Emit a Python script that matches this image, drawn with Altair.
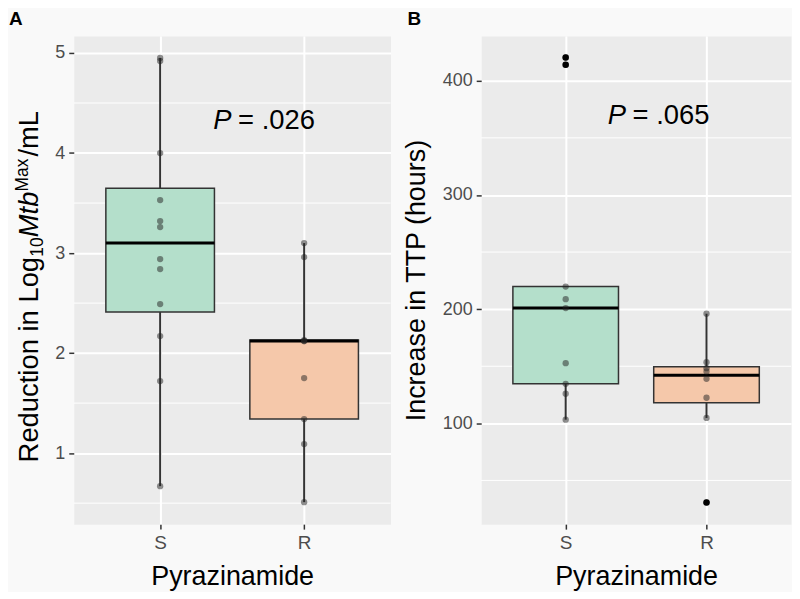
import altair as alt
import pandas as pd

# ---------------- data ----------------
GROUPS = ["S", "R"]
A_S = [4.95, 4.92, 4.00, 3.53, 3.32, 3.26, 2.94, 2.84, 2.49, 2.17, 1.72, 0.67]
A_R = [3.10, 2.96, 2.13, 2.12, 2.12, 1.75, 1.34, 1.09, 0.51]
B_S = [420.4, 414.0, 219.8, 208.7, 200.9, 152.7, 134.6, 125.9, 103.2]
B_R = [196.0, 153.5, 148.3, 145.4, 139.0, 122.4, 104.7, 30.7]

A_TICKS = [1, 2, 3, 4, 5]
A_MINOR = [0.5, 1.5, 2.5, 3.5, 4.5]
A_DOMAIN = [0.29, 5.17]
B_TICKS = [100, 200, 300, 400]
B_MINOR = [50, 150, 250, 350]
B_DOMAIN = [11.7, 439.2]

FILLS = ["#b4dfcb", "#f5c8aa"]
X_TITLE = "Pyrazinamide"
A_YTITLE_PARTS = ["Reduction in Log", "10", "Mtb", "Max", "/mL"]
B_YTITLE = "Increase in TTP (hours)"
P_A = ["P", "= .026"]
P_B = ["P", "= .065"]
PANEL_LABELS = ["A", "B"]

FONT = "Liberation Sans"


def long_df(s_vals, r_vals):
    return pd.DataFrame({
        "group": ["S"] * len(s_vals) + ["R"] * len(r_vals),
        "value": s_vals + r_vals,
    })


def text_layer(txt, x, y, size, **kw):
    return alt.Chart(pd.DataFrame({"t": [txt]})).mark_text(
        font=FONT, fontSize=size, color="black", **kw
    ).encode(text="t:N", x=alt.value(x), y=alt.value(y))


def panel(df, domain, ticks, minor, boxw, ytitle):
    xs = alt.Scale(type="point", domain=GROUPS, padding=0.6)
    ys = alt.Scale(domain=domain, nice=False, zero=False)
    xax = alt.Axis(title=X_TITLE, labelAngle=0, titlePadding=12, labelFontSize=19)
    yax = alt.Axis(values=ticks, title=ytitle, titlePadding=12)

    def X():
        return alt.X("group:N", scale=xs, axis=xax)

    def Y(field):
        return alt.Y(f"{field}:Q", scale=ys, axis=yax)

    base = alt.Chart(df)

    minor_rules = alt.Chart(pd.DataFrame({"m": minor})).mark_rule(
        color="white", strokeWidth=1
    ).encode(y=Y("m"))

    stats = base.transform_joinaggregate(
        q1="q1(value)", q3="q3(value)", groupby=["group"]
    ).transform_calculate(
        lo="datum.q1 - 1.5 * (datum.q3 - datum.q1)",
        hi="datum.q3 + 1.5 * (datum.q3 - datum.q1)",
    )
    whisk = stats.transform_filter(
        "datum.value >= datum.lo && datum.value <= datum.hi"
    ).transform_aggregate(
        wlo="min(value)", whi="max(value)", q1="min(q1)", q3="min(q3)",
        groupby=["group"],
    )
    w_low = whisk.mark_rule(color="#333333", strokeWidth=2).encode(
        x=X(), y=Y("wlo"), y2="q1:Q")
    w_high = whisk.mark_rule(color="#333333", strokeWidth=2).encode(
        x=X(), y=Y("q3"), y2="whi:Q")

    box_stats = base.transform_aggregate(
        q1="q1(value)", q3="q3(value)", med="median(value)", groupby=["group"]
    )
    box = box_stats.mark_bar(size=boxw, stroke="#333333", strokeWidth=1.5,
                             opacity=1).encode(
        x=X(), y=Y("q1"), y2="q3:Q",
        fill=alt.Fill("group:N", scale=alt.Scale(domain=GROUPS, range=FILLS),
                      legend=None),
    )
    med = box_stats.mark_tick(size=boxw, thickness=3, color="black",
                              opacity=1).encode(x=X(), y=Y("med"))

    pts = base.mark_circle(size=40, color="#222222", opacity=0.5).encode(
        x=X(), y=Y("value"))

    outl = stats.transform_filter(
        "datum.value < datum.lo || datum.value > datum.hi"
    ).mark_circle(size=42, color="black", opacity=1).encode(x=X(), y=Y("value"))

    return [minor_rules, w_low, w_high, box, med, pts, outl]


W_A, W_B, H = 318, 311, 490

# ---------- panel A ----------
layers_a = panel(long_df(A_S, A_R), A_DOMAIN, A_TICKS, A_MINOR, 109, "")
layers_a += [
    text_layer(P_A[0], 140, 93, 27.5, fontStyle="italic", align="left", baseline="alphabetic"),
    text_layer(P_A[1], 165, 93, 27.5, align="left", baseline="alphabetic"),
    # composite y-axis title
    text_layer(A_YTITLE_PARTS[0], -35.7, 428, 27.5, angle=270, align="left", baseline="alphabetic"),
    text_layer(A_YTITLE_PARTS[1], -31.3, 221.6, 17.5, angle=270, align="left", baseline="alphabetic"),
    text_layer(A_YTITLE_PARTS[2], -35.7, 202, 27.5, angle=270, align="left", baseline="alphabetic", fontStyle="italic"),
    text_layer(A_YTITLE_PARTS[3], -46, 156, 17.5, angle=270, align="left", baseline="alphabetic"),
    text_layer(A_YTITLE_PARTS[4], -35.7, 121, 27.5, angle=270, align="left", baseline="alphabetic"),
    text_layer(PANEL_LABELS[0], -65, -26.5, 19, fontWeight="bold", align="left", baseline="top"),
]
chart_a = alt.layer(*layers_a).properties(width=W_A, height=H)

# ---------- panel B ----------
layers_b = panel(long_df(B_S, B_R), B_DOMAIN, B_TICKS, B_MINOR, 106, B_YTITLE)
layers_b += [
    text_layer(P_B[0], 127, 88, 27.5, fontStyle="italic", align="left", baseline="alphabetic"),
    text_layer(P_B[1], 152, 88, 27.5, align="left", baseline="alphabetic"),
    text_layer(PANEL_LABELS[1], -74, -26.5, 19, fontWeight="bold", align="left", baseline="top"),
]
chart_b = alt.layer(*layers_b).properties(width=W_B, height=H)

chart = alt.hconcat(chart_a, chart_b, spacing=10).properties(
    padding=0, background="#f9f9f9"
).configure_view(
    fill="#ebebeb", stroke="transparent"
).configure_axis(
    grid=True, gridColor="white", gridWidth=2, domain=False,
    tickColor="#333333", tickWidth=1.5, tickSize=5, labelPadding=4,
    labelFont=FONT, labelFontSize=18, labelColor="#4d4d4d",
    titleFont=FONT, titleFontSize=27, titleColor="black", titleFontWeight="normal",
)

chart.save("out.html", embed_options={"renderer": "svg", "actions": False})
